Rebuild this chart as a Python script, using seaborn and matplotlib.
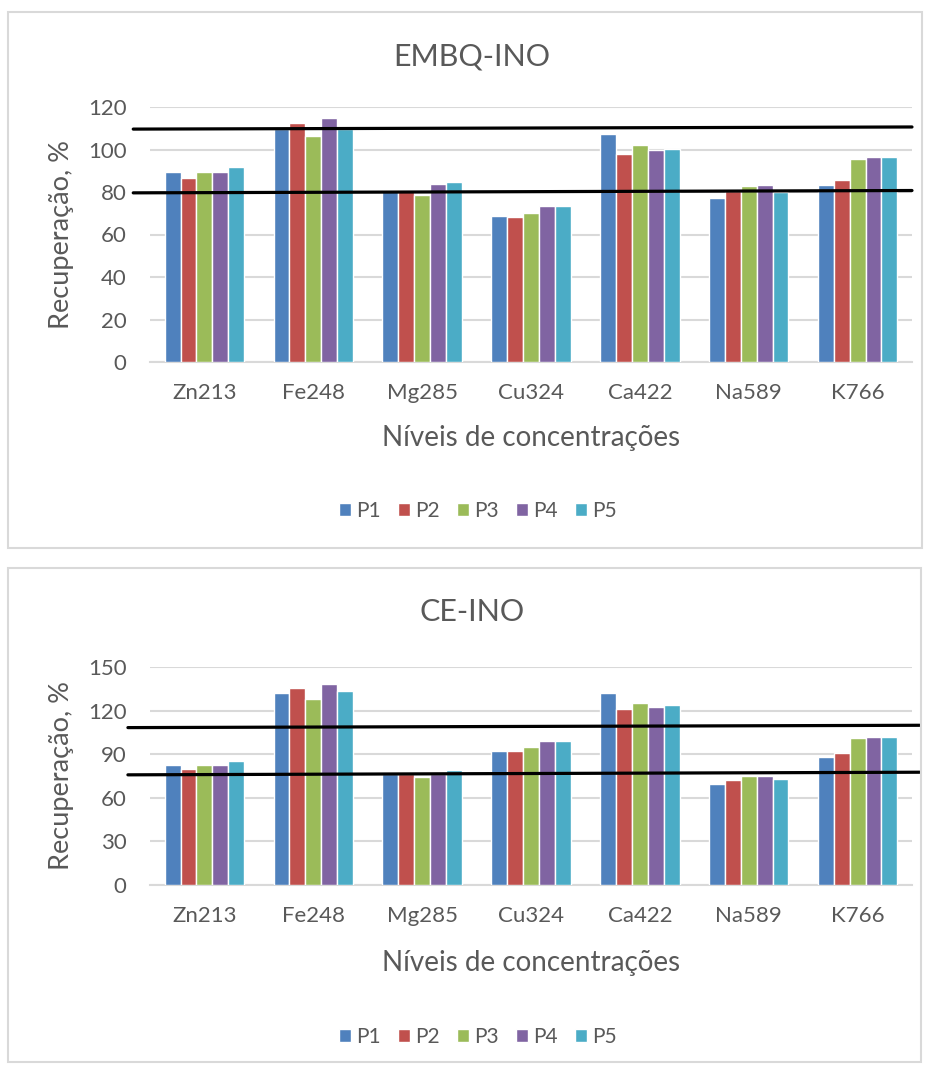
import pandas as pd
import matplotlib
matplotlib.use('Agg')
import matplotlib.pyplot as plt
import matplotlib.patches as mpatches
import seaborn as sns

# Elementos (eixo x) e pontos de fortificação (séries)
ELEMENTOS = ['Zn213', 'Fe248', 'Mg285', 'Cu324', 'Ca422', 'Na589', 'K766']
PONTOS = ['P1', 'P2', 'P3', 'P4', 'P5']
CORES = ['#4F81BD', '#C0504D', '#9BBB59', '#8064A2', '#4BACC6']

# Recuperação (%) - EMBQ-INO
EMBQ_P1 = [89.2, 109.6, 81.0, 68.6, 107.4, 77.4, 83.2]
EMBQ_P2 = [86.8, 112.6, 81.0, 68.1, 98.0, 80.5, 85.7]
EMBQ_P3 = [89.2, 106.2, 78.6, 70.3, 102.1, 82.7, 95.6]
EMBQ_P4 = [89.2, 115.0, 83.7, 73.3, 99.9, 83.2, 96.3]
EMBQ_P5 = [92.0, 109.6, 84.5, 73.3, 100.2, 80.2, 96.3]

# Recuperação (%) - CE-INO
CE_P1 = [82.4, 132.4, 76.3, 92.3, 132.4, 69.4, 87.9]
CE_P2 = [79.9, 135.8, 76.3, 92.3, 120.9, 72.1, 90.5]
CE_P3 = [82.4, 128.0, 74.0, 94.8, 125.5, 74.7, 101.0]
CE_P4 = [82.4, 138.5, 76.3, 99.4, 122.7, 74.7, 101.7]
CE_P5 = [85.2, 133.3, 79.2, 99.4, 123.7, 73.0, 101.7]

# Limites de aceitação desenhados à mão (valor à esquerda, valor à direita)
EMBQ_LIMITES = [(109.6, 110.6), (79.6, 80.7)]
CE_LIMITES = [(108.3, 109.9), (75.8, 77.6)]

EMBQ_TICKS = [0, 20, 40, 60, 80, 100, 120]
CE_TICKS = [0, 30, 60, 90, 120, 150]

W, H = 926, 1065
CINZA_TEXTO = '#595959'
CINZA_GRADE = '#D9D9D9'


def to_long(series):
    rows = []
    for ponto, valores in zip(PONTOS, series):
        for el, v in zip(ELEMENTOS, valores):
            rows.append({'Elemento': el, 'Ponto': ponto, 'Valor': v})
    return pd.DataFrame(rows)


def draw_panel(fig, box, axbox, df, titulo, ticks, limites, lim_x, y_title, y_xlabel, y_leg):
    # moldura do gráfico (estilo Excel)
    x0, y0, x1, y1 = box
    fig.patches.append(mpatches.Rectangle((x0 / W, 1 - y1 / H), (x1 - x0) / W, (y1 - y0) / H,
                                          transform=fig.transFigure, fill=False,
                                          edgecolor=CINZA_GRADE, linewidth=1.5))

    left, top, right, bottom = axbox
    ax = fig.add_axes([left / W, 1 - bottom / H, (right - left) / W, (bottom - top) / H])
    sns.barplot(data=df, x='Elemento', y='Valor', hue='Ponto', palette=CORES, saturation=1,
                width=0.73, edgecolor='white', linewidth=1.0, ax=ax, zorder=3)

    ax.set_ylim(ticks[0], ticks[-1])
    ax.set_yticks(ticks)
    ax.set_xlim(-0.5, len(ELEMENTOS) - 0.5)
    ax.yaxis.grid(True, color=CINZA_GRADE, linewidth=1.5, zorder=0)
    ax.set_axisbelow(True)
    for s in ['top', 'right', 'left']:
        ax.spines[s].set_visible(False)
    ax.spines['bottom'].set_color(CINZA_GRADE)
    ax.spines['bottom'].set_linewidth(1.5)
    ax.tick_params(axis='both', length=0, labelsize=16, labelcolor=CINZA_TEXTO)
    ax.tick_params(axis='x', pad=15)
    ax.tick_params(axis='y', pad=17)
    ax.set_xlabel('')
    ax.set_ylabel('')

    # linhas pretas dos limites
    for ya, yb in limites:
        ax.plot(lim_x, [ya, yb], color='black', linewidth=2.3,
                transform=ax.get_yaxis_transform(), clip_on=False, zorder=5)

    handles, labels = ax.get_legend_handles_labels()
    ax.get_legend().remove()

    cx = (left + right) / 2
    cy = (top + bottom) / 2
    fig.text(472 / W, 1 - y_title / H, titulo, ha='center', va='center',
             fontsize=22, color=CINZA_TEXTO)
    fig.text(cx / W, 1 - y_xlabel / H, 'Níveis de concentrações', ha='center', va='center',
             fontsize=20, color=CINZA_TEXTO)
    fig.text(61 / W, 1 - cy / H, 'Recuperação, %', ha='center', va='center', rotation=90,
             fontsize=19.5, color=CINZA_TEXTO)
    fig.legend(handles, labels, loc='center', bbox_to_anchor=(478 / W, 1 - y_leg / H),
               ncol=5, frameon=False, fontsize=15, handlelength=0.6, handleheight=0.6,
               handletextpad=0.25, columnspacing=0.8, labelcolor=CINZA_TEXTO)
    return ax


def main():
    sns.set_theme(style='white')
    plt.rcParams['font.family'] = ['Lato', 'DejaVu Sans']

    fig = plt.figure(figsize=(W / 100, H / 100), dpi=100)

    df_embq = to_long([EMBQ_P1, EMBQ_P2, EMBQ_P3, EMBQ_P4, EMBQ_P5])
    df_ce = to_long([CE_P1, CE_P2, CE_P3, CE_P4, CE_P5])

    draw_panel(fig, (8, 12, 922, 548), (150, 107, 912, 362), df_embq, 'EMBQ-INO',
               EMBQ_TICKS, EMBQ_LIMITES, [-0.022, 1.0], 57, 438, 511)
    draw_panel(fig, (8, 568, 921, 1062), (150, 667, 912, 885), df_ce, 'CE-INO',
               CE_TICKS, CE_LIMITES, [-0.029, 1.010], 612, 963, 1037)

    fig.savefig('out.png', dpi=100)
    plt.close(fig)


if __name__ == '__main__':
    main()
